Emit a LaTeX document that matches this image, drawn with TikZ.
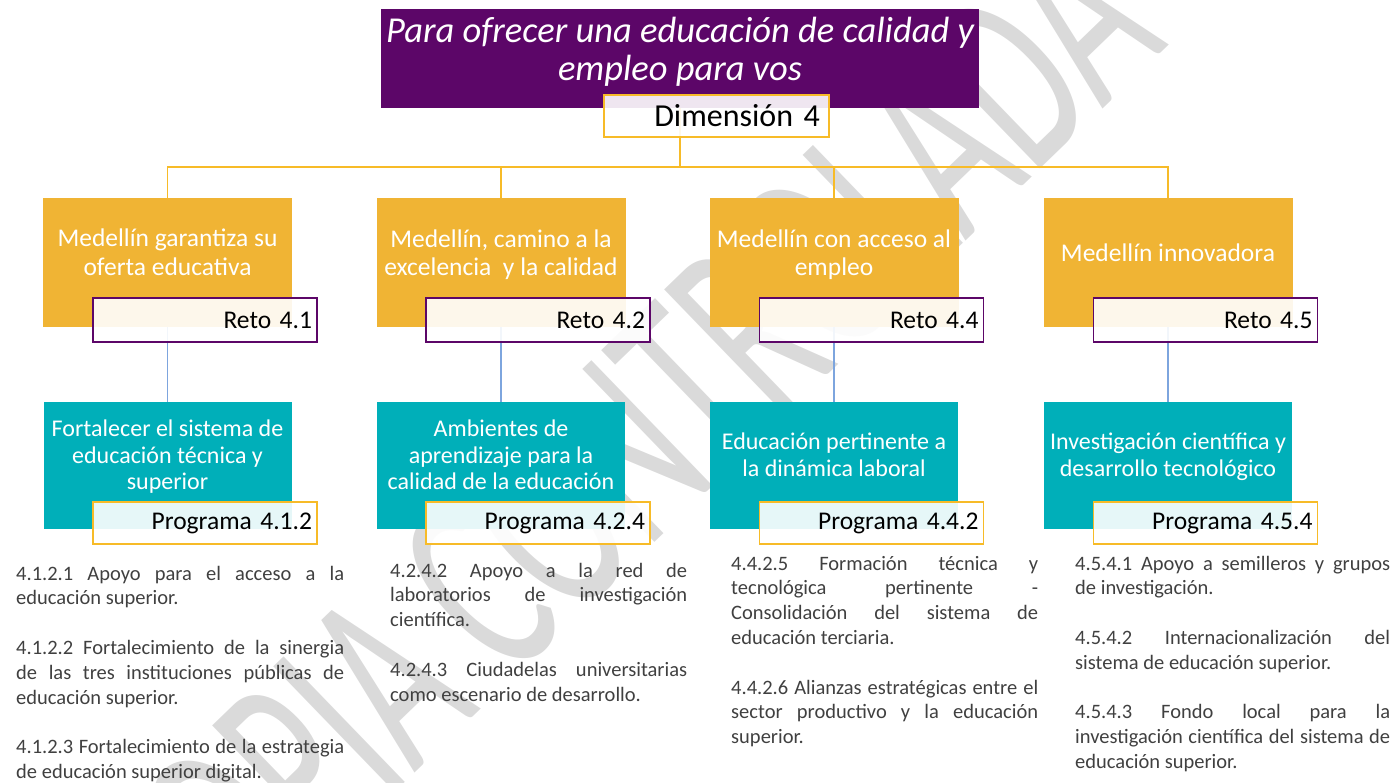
\documentclass[tikz,border=0pt]{standalone}
\usepackage{fontspec}
\usepackage{graphicx}
\setmainfont{Carlito}
\usetikzlibrary{positioning}
\setlength{\parindent}{0pt}
\tolerance=10000
\hbadness=10000
\definecolor{morado}{RGB}{92,6,104}
\definecolor{naranja}{RGB}{240,180,52}
\definecolor{oro}{RGB}{247,187,40}
\definecolor{turquesa}{RGB}{0,175,185}
\definecolor{azulclaro}{RGB}{125,165,222}
\definecolor{textogris}{RGB}{64,64,64}
\definecolor{marcagris}{RGB}{218,218,218}
\newcommand{\espaciopar}{\par\vspace{24.8pt}}
\tikzset{
naranjabox/.style={fill=naranja, minimum width=249, minimum height=129, inner sep=0},
turqbox/.style={fill=turquesa, minimum width=248, minimum height=127, inner sep=0},
textonaranja/.style={text=white, align=center, inner sep=0, font=\fontsize{25.5}{28.5}\selectfont},
textoturq/.style={text=white, align=center, inner sep=0, font=\fontsize{24}{26.5}\selectfont},
retobox/.style={draw=morado, line width=1.6pt, fill=white, fill opacity=.9, text opacity=1, minimum width=224, minimum height=44, text width=214, align=right, inner sep=0, font=\fontsize{25.5}{30}\selectfont},
progbox/.style={retobox, draw=oro, minimum height=42},
lineaoro/.style={draw=oro, line width=1.6pt},
lineaazul/.style={draw=azulclaro, line width=1.6pt},
parrafo/.style={anchor=base west, inner sep=0, align=justify, text=textogris, font=\fontsize{20.5}{24.8}\selectfont}
}
\begin{document}
\begin{tikzpicture}[x=1pt, y=-1pt]
\useasboundingbox (0,0) rectangle (1399,782);
\begin{scope}
\clip (0,0) rectangle (1399,782);
\node[text=marcagris, rotate=44, inner sep=0, font=\fontsize{170}{170}\selectfont] (marca) at (618,456) {\scalebox{0.95}[1.6]{COPIA CONTROLADA}};
\end{scope}
\node[naranjabox] (n1) at (167.5,262.5) {};
\node[naranjabox] (n2) at (501,262.5) {};
\node[naranjabox] (n3) at (834,262.5) {};
\node[naranjabox] (n4) at (1168,262.5) {};
\node[turqbox] (t1) at (167.5,465.5) {};
\node[turqbox] (t2) at (501,465.5) {};
\node[turqbox] (t3) at (834,465.5) {};
\node[turqbox] (t4) at (1168,465.5) {};
\node[textonaranja] (tn1) at ([yshift=10.5pt]n1.center) {Medellín garantiza su\\oferta educativa};
\node[textonaranja] (tn2) at ([yshift=8pt]n2.center) {Medellín, camino a la\\excelencia \ y la calidad};
\node[textonaranja] (tn3) at ([yshift=8pt]n3.center) {Medellín con acceso al\\empleo};
\node[textonaranja] (tn4) at ([yshift=9.5pt]n4.center) {Medellín innovadora};
\node[textoturq] (tt1) at ([yshift=8.5pt]t1.center) {Fortalecer el sistema de\\educación técnica y\\superior};
\node[textoturq] (tt2) at ([yshift=10.5pt]t2.center) {Ambientes de\\aprendizaje para la\\calidad de la educación};
\node[textoturq] (tt3) at ([yshift=11pt]t3.center) {Educación pertinente a\\la dinámica laboral};
\node[textoturq] (tt4) at ([yshift=8.5pt]t4.center) {Investigación científica y\\desarrollo tecnológico};
\draw[lineaazul] (n1.south) -- (t1.north);
\draw[lineaazul] (n2.south) -- (t2.north);
\draw[lineaazul] (n3.south) -- (t3.north);
\draw[lineaazul] (n4.south) -- (t4.north);
\node[retobox] (r1) at (205,320) {Reto 4.1};
\node[retobox] (r2) at (538,320) {Reto 4.2};
\node[retobox] (r3) at (871.5,320) {Reto 4.4};
\node[retobox] (r4) at (1205.5,320) {Reto 4.5};
\node[progbox] (p1) at (205,523) {Programa 4.1.2};
\node[progbox] (p2) at (538,523) {Programa 4.2.4};
\node[progbox] (p3) at (871.5,523) {Programa 4.4.2};
\node[progbox] (p4) at (1205.5,523) {Programa 4.5.4};
\node[fill=morado, minimum width=598, minimum height=99, inner sep=0] (tit) at (680,58.5) {};
\node[text=white, align=center, inner sep=0, font=\fontsize{36.5}{38}\selectfont\itshape] (tittexto) at (680,51.5) {Para ofrecer una educación de calidad y\\empleo para vos};
\coordinate (rama) at (680,167);
\draw[lineaoro] (tit.south) -- (rama);
\draw[lineaoro] (rama) -| (n1.north);
\draw[lineaoro] (rama) -| (n2.north);
\draw[lineaoro] (rama) -| (n3.north);
\draw[lineaoro] (rama) -| (n4.north);
\node[retobox, draw=oro, minimum width=225, minimum height=42, text width=207, font=\fontsize{32}{36}\selectfont] (dim) at (716.5,116) {Dimensión 4};
\node[parrafo, text width=328] (act1) at (16,580) {4.1.2.1 Apoyo para el acceso a la\linebreak educación superior.\espaciopar
4.1.2.2 Fortalecimiento de la sinergia\linebreak de las tres instituciones públicas de\linebreak educación superior.\espaciopar
4.1.2.3 Fortalecimiento de la estrategia\linebreak de educación superior digital.};
\node[parrafo, text width=297] (act2) at (390,577) {4.2.4.2 Apoyo a la red de\linebreak laboratorios de investigación\linebreak científica.\espaciopar
4.2.4.3 Ciudadelas universitarias\linebreak como escenario de desarrollo.};
\node[parrafo, text width=307] (act3) at (731,570) {4.4.2.5 Formación técnica y\linebreak tecnológica pertinente -\linebreak Consolidación del sistema de\linebreak educación terciaria.\espaciopar
4.4.2.6 Alianzas estratégicas entre el\linebreak sector productivo y la educación\linebreak superior.};
\node[parrafo, text width=315] (act4) at (1075,570) {4.5.4.1 Apoyo a semilleros y grupos\linebreak de investigación.\espaciopar
4.5.4.2 Internacionalización del\linebreak sistema de educación superior.\espaciopar
4.5.4.3 Fondo local para la\linebreak investigación científica del sistema de\linebreak educación superior.};
\end{tikzpicture}
\end{document}
